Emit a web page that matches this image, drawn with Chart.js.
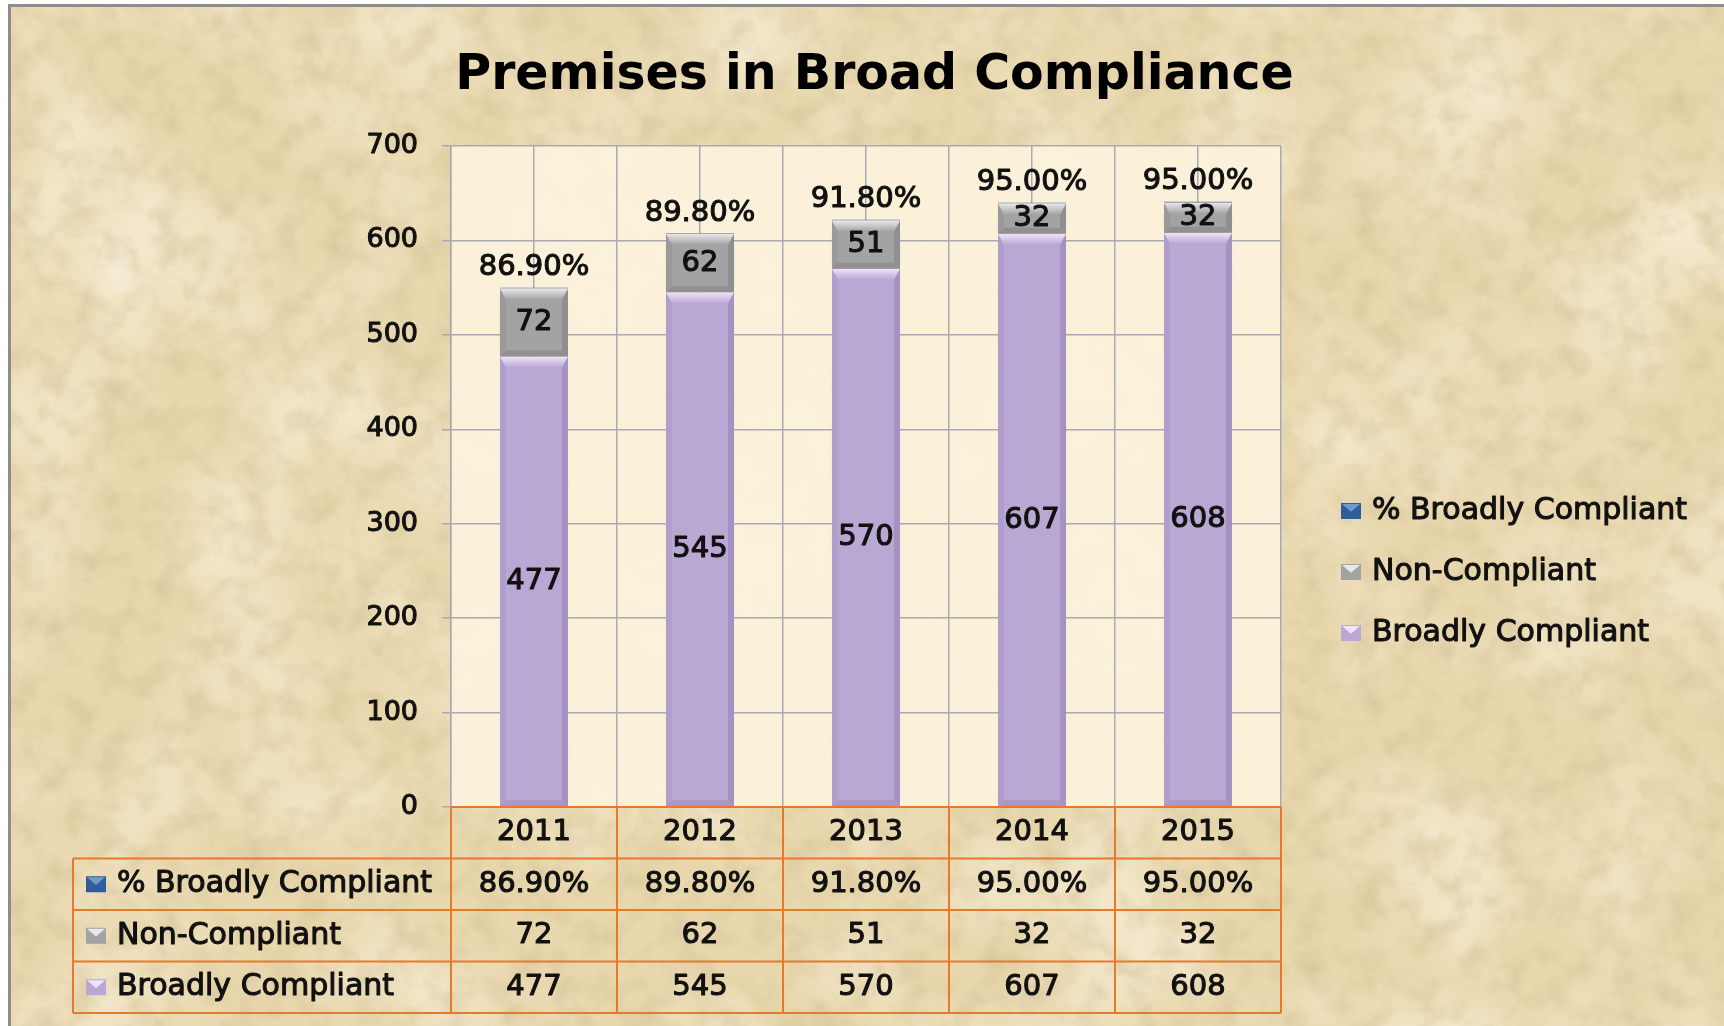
<!DOCTYPE html>
<html>
<head>
<meta charset="utf-8">
<title>Premises in Broad Compliance</title>
<script src="https://cdn.jsdelivr.net/npm/chart.js@4.4.1/dist/chart.umd.min.js"></script>
<style>
  html, body { margin: 0; padding: 0; background: #fff; }
  body { width: 1724px; height: 1026px; position: relative; overflow: hidden; }
  #paper {
    position: absolute; left: 8px; top: 4px; width: 1760px; height: 1060px;
    border: 3px solid #8d8d8d;
    background-color: #e9d8ae;
    background-image:
      url("data:image/svg+xml;utf8,<svg xmlns='http://www.w3.org/2000/svg' width='1760' height='1060'><filter id='f'><feTurbulence type='fractalNoise' baseFrequency='0.035' numOctaves='5' seed='7'/><feColorMatrix type='matrix' values='0 0 0 0 0.62  0 0 0 0 0.5  0 0 0 0 0.28  1.1 0 0 0 -0.45'/></filter><rect width='100%' height='100%' filter='url(%23f)'/></svg>"),
      url("data:image/svg+xml;utf8,<svg xmlns='http://www.w3.org/2000/svg' width='1760' height='1060'><filter id='g'><feTurbulence type='fractalNoise' baseFrequency='0.006' numOctaves='3' seed='3'/><feColorMatrix type='matrix' values='0 0 0 0 1  0 0 0 0 0.97  0 0 0 0 0.88  1.2 0 0 0 -0.5'/></filter><rect width='100%' height='100%' filter='url(%23g)'/></svg>");
  }
  #chart { position: absolute; left: 0; top: 0; }
</style>
</head>
<body>
<div id="paper"></div>
<canvas id="chart" width="1724" height="1026"></canvas>
<script>
// data
const years = ['2011', '2012', '2013', '2014', '2015'];
const broadlyCompliant = [477, 545, 570, 607, 608];
const nonCompliant = [72, 62, 51, 32, 32];
const pctBroadlyCompliant = [0.869, 0.898, 0.918, 0.95, 0.95];
const seriesNames = ['% Broadly Compliant', 'Non-Compliant', 'Broadly Compliant'];

const FONT = 'DejaVu Sans';
const ORANGE = '#e8792b';
const GRID = '#a9a9b3';

const purple = { base: '#b9a8d3', top: '#f1e2fb', left: '#b09fcc', right: '#a493c2', bottom: '#a898c4' };
const grey = { base: '#a3a3a3', top: '#e9e9e9', left: '#9a9a9a', right: '#8f8f8f', bottom: '#909090' };
const blue = { base: '#2f5d9b', top: '#6f9ad0' };

function fmtPct(v) { return (v * 100).toFixed(2) + '%'; }

function poly(ctx, pts, fill) {
    ctx.beginPath();
    ctx.moveTo(pts[0][0], pts[0][1]);
    for (let i = 1; i < pts.length; i++) ctx.lineTo(pts[i][0], pts[i][1]);
    ctx.closePath();
    ctx.fillStyle = fill;
    ctx.fill();
}

// bevel look of the excel bars
function bevel(ctx, el, shade, size) {
    const l = el.x - el.width / 2, r = el.x + el.width / 2;
    const t = Math.min(el.y, el.base), b = Math.max(el.y, el.base);
    const s = Math.min(size, (b - t) / 2);
    if (s < 1) return;
    const side = Math.min(6, s);
    const g = ctx.createLinearGradient(0, t, 0, t + s);
    g.addColorStop(0, shade.top);
    g.addColorStop(1, shade.base);
    poly(ctx, [[l, t], [l + side, t + s], [l + side, b - side], [l, b]], shade.left);
    poly(ctx, [[r, t], [r, b], [r - side, b - side], [r - side, t + s]], shade.right);
    poly(ctx, [[l, b], [r, b], [r - side, b - side], [l + side, b - side]], shade.bottom);
    poly(ctx, [[l, t], [r, t], [r - side, t + s], [l + side, t + s]], g);
}

function txt(ctx, str, x, y, size, align) {
    ctx.font = size + 'px "' + FONT + '"';
    ctx.textAlign = align || 'center';
    ctx.textBaseline = 'middle';
    ctx.fillStyle = '#111';
    ctx.strokeStyle = '#111';
    ctx.lineWidth = 1.1;
    ctx.lineJoin = 'round';
    ctx.fillText(str, x, y);
    ctx.strokeText(str, x, y);
}

function key(ctx, x, cy, shade) {
    const w = 20, h = 16, t = cy - h / 2;
    ctx.fillStyle = shade.base;
    ctx.fillRect(x, t, w, h);
    poly(ctx, [[x + 1, t + 1], [x + w - 1, t + 1], [x + w / 2, t + h * 0.55]], shade.top);
}

const plotBackground = {
    id: 'plotBackground',
    beforeDraw(chart) {
        const a = chart.chartArea, ctx = chart.ctx;
        ctx.save();
        ctx.fillStyle = 'rgba(252,242,220,0.94)';
        ctx.fillRect(a.left, a.top, a.right - a.left, a.bottom - a.top);
        ctx.restore();
    }
};

const barBevel = {
    id: 'barBevel',
    afterDatasetsDraw(chart) {
        const ctx = chart.ctx;
        ctx.save();
        chart.getDatasetMeta(0).data.forEach(el => bevel(ctx, el, purple, 11));
        chart.getDatasetMeta(1).data.forEach(el => bevel(ctx, el, grey, 11));
        ctx.restore();
    }
};

const labelsAndTable = {
    id: 'labelsAndTable',
    afterDraw(chart) {
        const ctx = chart.ctx, a = chart.chartArea, xs = chart.scales.x;
        ctx.save();

        // value labels on the bars
        chart.getDatasetMeta(0).data.forEach((el, i) => txt(ctx, String(broadlyCompliant[i]), el.x, (el.y + el.base) / 2, 29));
        chart.getDatasetMeta(1).data.forEach((el, i) => txt(ctx, String(nonCompliant[i]), el.x, (el.y + el.base) / 2, 29));
        chart.getDatasetMeta(2).data.forEach((el, i) => txt(ctx, fmtPct(pctBroadlyCompliant[i]), el.x, el.y - 20, 29));

        // data table under the plot
        const colW = xs.getPixelForValue(1) - xs.getPixelForValue(0);
        const rowH = 51.5, tableLeft = 73;
        const top = a.bottom;
        ctx.strokeStyle = ORANGE;
        ctx.lineWidth = 2;
        ctx.beginPath();
        ctx.moveTo(a.left, top); ctx.lineTo(a.right, top);
        for (let k = 1; k <= 4; k++) {
            ctx.moveTo(tableLeft, top + rowH * k); ctx.lineTo(a.right, top + rowH * k);
        }
        for (let j = 0; j <= years.length; j++) {
            const x = xs.getPixelForValue(0) - colW / 2 + colW * j;
            ctx.moveTo(x, top); ctx.lineTo(x, top + rowH * 4);
        }
        ctx.moveTo(tableLeft, top + rowH); ctx.lineTo(tableLeft, top + rowH * 4);
        ctx.stroke();

        const rows = [
            pctBroadlyCompliant.map(fmtPct),
            nonCompliant.map(String),
            broadlyCompliant.map(String)
        ];
        const shades = [blue, grey, purple];
        years.forEach((y, i) => txt(ctx, y, xs.getPixelForValue(i), top + rowH / 2, 29));
        rows.forEach((vals, r) => {
            const cy = top + rowH * (r + 1.5);
            key(ctx, tableLeft + 13, cy, shades[r]);
            txt(ctx, seriesNames[r], tableLeft + 44, cy, 30, 'left');
            vals.forEach((v, i) => txt(ctx, v, xs.getPixelForValue(i), cy, 29));
        });

        // legend on the right
        seriesNames.forEach((name, r) => {
            const cy = 511 + r * 61;
            key(ctx, a.right + 60, cy, shades[r]);
            txt(ctx, name, a.right + 91, cy, 30, 'left');
        });
        ctx.restore();
    }
};

new Chart(document.getElementById('chart'), {
    type: 'bar',
    data: {
        labels: years,
        datasets: [
            { label: seriesNames[2], data: broadlyCompliant, backgroundColor: purple.base },
            { label: seriesNames[1], data: nonCompliant, backgroundColor: grey.base },
            { label: seriesNames[0], data: pctBroadlyCompliant, backgroundColor: '#4d6f98' }
        ]
    },
    options: {
        responsive: false,
        animation: false,
        devicePixelRatio: 1,
        layout: { padding: { left: 25, right: 0, top: 0, bottom: 0 } },
        datasets: { bar: { barPercentage: 0.41, categoryPercentage: 1, borderWidth: 0 } },
        plugins: {
            legend: { display: false },
            tooltip: { enabled: false },
            title: {
                display: true,
                text: 'Premises in Broad Compliance',
                color: '#000',
                font: { family: FONT, size: 49, weight: 'bold' },
                padding: { top: 47, bottom: 40.2 }
            }
        },
        scales: {
            x: {
                stacked: true,
                grid: { color: GRID, lineWidth: 1.5, drawTicks: false, offset: true },
                border: { display: false },
                ticks: { display: false },
                afterFit: s => { s.height = 219; }
            },
            xMid: {
                type: 'category',
                labels: years,
                position: 'bottom',
                offset: true,
                grid: { color: GRID, lineWidth: 1.5, drawTicks: false, offset: false },
                border: { display: false },
                ticks: { display: false },
                afterFit: s => { s.height = 0; }
            },
            y: {
                stacked: true,
                min: 0,
                max: 700,
                ticks: {
                    stepSize: 100,
                    padding: 24,
                    color: '#111',
                    font: { family: FONT, size: 27 },
                    textStrokeColor: '#111',
                    textStrokeWidth: 1.1
                },
                grid: { color: GRID, lineWidth: 1.5, tickLength: 9 },
                border: { color: GRID, width: 1.5 },
                afterFit: s => { s.width = 426; }
            },
            legendSpace: {
                type: 'linear',
                position: 'right',
                grid: { display: false },
                border: { display: false },
                ticks: { display: false },
                afterFit: s => { s.width = 443; }
            }
        }
    },
    plugins: [plotBackground, barBevel, labelsAndTable]
});
</script>
</body>
</html>
